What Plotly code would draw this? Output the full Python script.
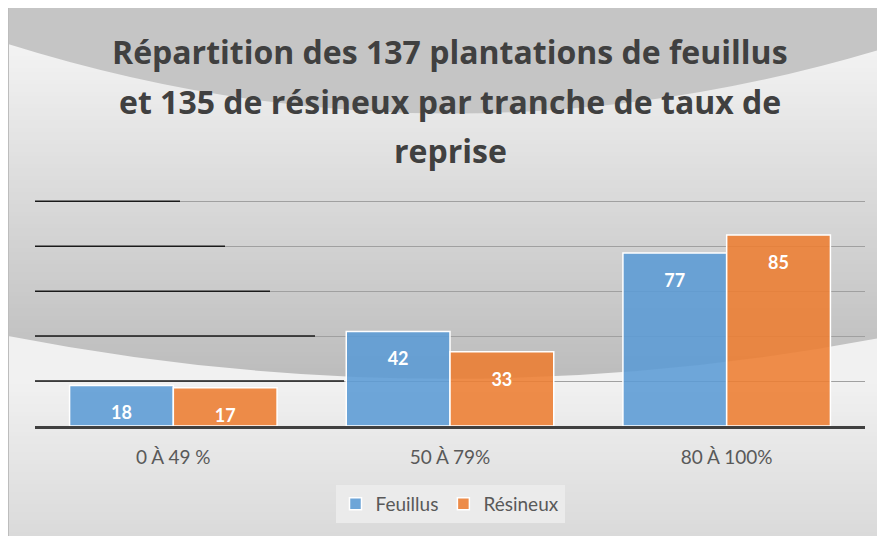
import plotly.graph_objects as go

# ---- data ----
categories = ["0 À 49 %", "50 À 79%", "80 À 100%"]
feuillus = [18, 42, 77]
resineux = [17, 33, 85]
series_names = ["Feuillus", "Résineux"]
title_lines = [
    "Répartition des 137 plantations de feuillus",
    "et 135 de résineux par tranche de taux de",
    "reprise",
]
y_ticks = [20, 40, 60, 80, 100]
Y_MAX = 101

# ---- layout geometry ----
# The page adds an 8px body margin; positions below are given in screen pixels
OFF = 8
W, H = 885, 536
PLOT_L, PLOT_R, PLOT_T, PLOT_B = 35, 865, 199, 426  # screen pixels
ML, MT = PLOT_L - OFF, PLOT_T - OFF
MR = W - (PLOT_R - OFF)
MB = H - (PLOT_B - OFF)
PW, PH = PLOT_R - PLOT_L, PLOT_B - PLOT_T


def px(x):
    return (x - PLOT_L) / PW


def py(y):
    return (PLOT_B - y) / PH


def grey(v):
    v = int(round(max(0, min(255, v))))
    return f"rgb({v},{v},{v})"


BLUE = "rgba(91,155,213,0.88)"
ORANGE = "rgba(237,125,49,0.88)"
FONT = "Lato"
TFONT = "Open Sans"

fig = go.Figure()
fig.add_trace(go.Bar(x=categories, y=feuillus, name=series_names[0],
                     marker=dict(color=BLUE, line=dict(color="white", width=1.5)),
                     offsetgroup="a", hoverinfo="skip"))
fig.add_trace(go.Bar(x=categories, y=resineux, name=series_names[1],
                     marker=dict(color=ORANGE, line=dict(color="white", width=1.5)),
                     offsetgroup="b", hoverinfo="skip"))
for vals, grp in ((feuillus, "a"), (resineux, "b")):
    fig.add_trace(go.Scatter(x=categories, y=vals, mode="markers+text",
                             text=[str(v) for v in vals], textposition="bottom center",
                             marker=dict(size=31, opacity=0),
                             textfont=dict(family=FONT, size=18, color="white", weight="bold"),
                             offsetgroup=grp, showlegend=False, hoverinfo="skip"))

shapes = []
LEFT, RIGHT, TOP, BOT = 8, 900, 8, 560
x0, x1 = px(LEFT), px(RIGHT)
step = 4
y = TOP
while y < BOT:
    yc = y + step / 2
    if yc < 380:
        t = (yc - 45) / (378 - 45)
        c = 243 - 55 * max(0, t)
    else:
        t = (yc - 380) / (536 - 380)
        c = 241 - 23 * t
    shapes.append(dict(type="rect", xref="paper", yref="paper", layer="below",
                       x0=x0, x1=x1, y0=py(y), y1=py(min(BOT, y + step + 0.5)),
                       fillcolor=grey(c), line=dict(width=0)))
    y += step

# top band with curved lower edge
top_path = (f"M {px(LEFT)},{py(TOP)} L {px(RIGHT)},{py(TOP)} L {px(RIGHT)},{py(48)} "
            f"L {px(885)},{py(48)} Q {px(445)},{py(181)} {px(LEFT)},{py(44)} Z")
shapes.append(dict(type="path", path=top_path, xref="paper", yref="paper", layer="below",
                   fillcolor=grey(197), line=dict(width=0)))
# light lower region with curved upper edge
low_path = (f"M {px(LEFT)},{py(336)} Q {px(445)},{py(421)} {px(885)},{py(337)} "
            f"L {px(RIGHT)},{py(337)} L {px(RIGHT)},{py(381)} L {px(LEFT)},{py(381)} Z")
shapes.append(dict(type="path", path=low_path, xref="paper", yref="paper", layer="below",
                   fillcolor=grey(241), line=dict(width=0)))
# left border
shapes.append(dict(type="line", xref="paper", yref="paper", layer="below",
                   x0=px(8.5), x1=px(8.5), y0=py(TOP), y1=py(BOT),
                   line=dict(color="#bdbdbd", width=1)))
# darker left part of gridlines
for i, tv in enumerate(y_ticks[::-1]):
    shapes.append(dict(type="line", xref="paper", yref="y", layer="above",
                       x0=0, x1=px(min(180 + 45 * i, 344)), y0=tv, y1=tv,
                       line=dict(color="#1a1a1a", width=1.5)))

annotations = []
for i, line in enumerate(title_lines):
    annotations.append(dict(text=line, xref="paper", yref="paper", x=0.5,
                            y=py(51 + 50 * i), xanchor="center", yanchor="middle",
                            showarrow=False,
                            font=dict(family=TFONT, size=32, color="#404040", weight="bold")))

fig.update_layout(
    width=W, height=H,
    margin=dict(l=ML, r=MR, t=MT, b=MB),
    paper_bgcolor="white", plot_bgcolor="rgba(0,0,0,0)",
    barmode="group", bargap=0.25, bargroupgap=0,
    scattermode="group", scattergap=0.25,
    shapes=shapes, annotations=annotations,
    showlegend=True,
    legend=dict(orientation="h", x=0.5, xanchor="center", y=py(504), yanchor="middle",
                bgcolor="#ebebeb", font=dict(family=FONT, size=19, color="#595959"),
                traceorder="normal"),
    xaxis=dict(showline=True, linecolor="#404040", linewidth=3, showgrid=False,
               ticks="outside", ticklen=12, tickcolor="rgba(0,0,0,0)",
               tickfont=dict(family=FONT, size=19, color="#595959"), fixedrange=True),
    yaxis=dict(range=[0, Y_MAX], tickvals=y_ticks, showticklabels=False, showgrid=True,
               gridcolor="#a0a0a0", gridwidth=1, zeroline=False, showline=False,
               fixedrange=True),
)

fig.write_html("out.html")
